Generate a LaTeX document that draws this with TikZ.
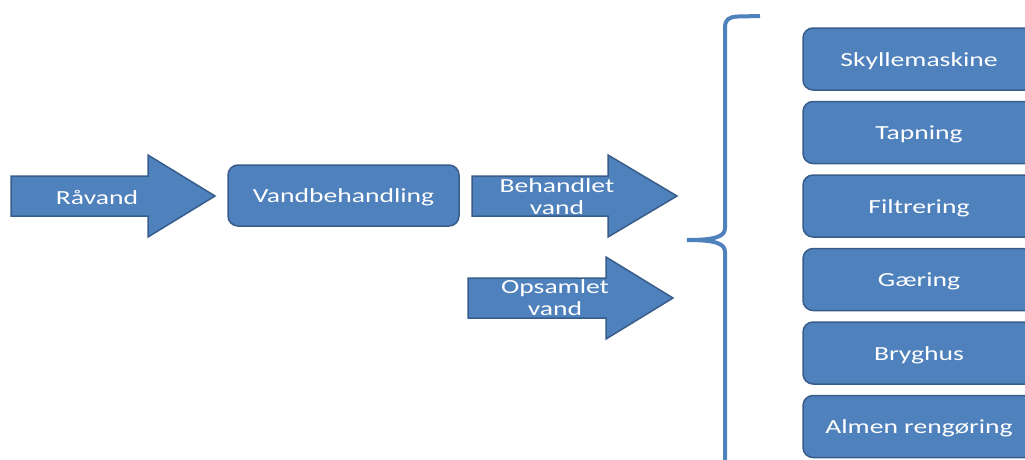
\documentclass[tikz,border=0pt]{standalone}
\usepackage{fontspec}
\newfontfamily\calfont{Carlito}[FakeStretch=1.38]
\usepackage{xcolor}
\usepackage{tikz}
\usetikzlibrary{positioning}
\definecolor{boxblue}{HTML}{4F81BD}
\definecolor{edgeblue}{HTML}{385D8A}
\tikzset{
  stage/.style={draw=edgeblue, fill=boxblue, line width=1.5pt, rounded corners=10pt,
  text=white, font=\calfont\fontsize{20}{22}\selectfont, minimum width=232pt,
  minimum height=62pt, text height=14pt, text depth=0pt, align=center},
  blockarrow/.style={draw=edgeblue, fill=boxblue, line width=1.5pt},
  arrowtext/.style={text=white, font=\calfont\fontsize{20}{22}\selectfont, align=center,
  inner sep=0pt},
  brace/.style={draw=boxblue, line width=4pt}
}
\begin{document}
\begin{tikzpicture}[x=1pt, y=-1pt]
	\useasboundingbox (0,0) rectangle (1025,459);
	% inflow arrows
	\draw[blockarrow] (11,176) -- (148,176) -- (148,155) -- (215,196) -- (148,237) -- (148,216) -- (11,216) -- cycle;
	\node[arrowtext] (raavand) at (97,197) {Råvand};
	\node[stage, minimum width=231pt, minimum height=61pt] (vandbeh) at (343.5,195.5) {Vandbehandling};
	\draw[blockarrow] (472,176) -- (608,176) -- (608,155) -- (677,196) -- (608,237) -- (608,216) -- (472,216) -- cycle;
	\node[arrowtext] (behandlet) at (557,197) {Behandlet\\vand};
	\draw[blockarrow] (468,278) -- (606,278) -- (606,257) -- (673,298) -- (606,339) -- (606,318) -- (468,318) -- cycle;
	\node[arrowtext] (opsamlet) at (555,298) {Opsamlet\\vand};
	% brace
	\draw[brace] (760,16) -- (738,16.5) .. controls (729,17) and (725,19) .. (725,28) -- (725,228)
		.. controls (725,237) and (714,240) .. (687,240)
		.. controls (714,240) and (725,243) .. (725,252) -- (725,465);
	% consumers
	\node[stage] (skyl) at (919,59) {Skyllemaskine};
	\node[stage, below=10pt of skyl] (tap) {Tapning};
	\node[stage, below=10pt of tap] (filt) {Filtrering};
	\node[stage, below=10pt of filt] (gaer) {Gæring};
	\node[stage, below=10pt of gaer] (bryg) {Bryghus};
	\node[stage, below=10pt of bryg] (almen) {Almen rengøring};
\end{tikzpicture}
\end{document}
